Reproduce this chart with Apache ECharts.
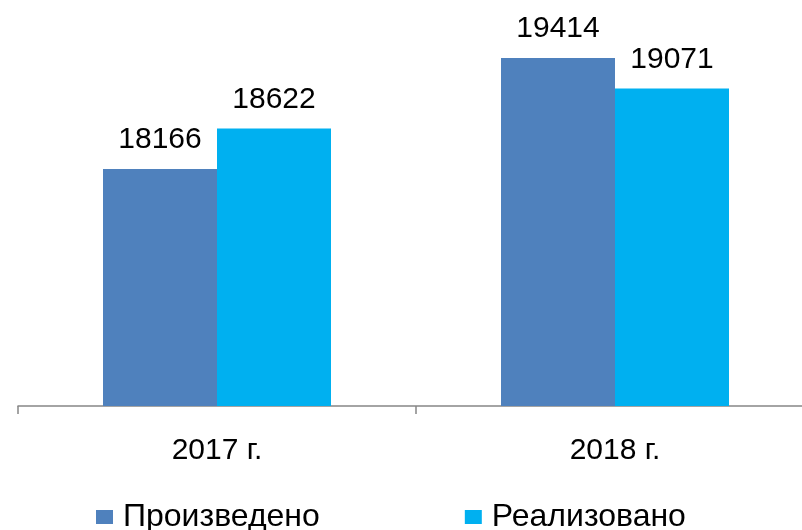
<!DOCTYPE html>
<html>
<head>
<meta charset="utf-8">
<script src="https://cdn.jsdelivr.net/npm/echarts@6/dist/echarts.min.js"></script>
<style>
  html, body { margin: 0; padding: 0; background: #fff; overflow: hidden; }
</style>
</head>
<body>
<div id="chart" style="width: 814px; height: 530px"></div>
<script>
const years = ["2017 г.", "2018 г."];
const produced = [18166, 19414];
const sold = [18622, 19071];
const seriesNames = ["Произведено", "Реализовано"];
const colors = ["#4F81BD", "#00B0F0"];

const font = "'Liberation Sans', Arial, sans-serif";
const myChart = echarts.init(document.getElementById("chart"));

const labelStyle = {
  show: true,
  position: "top",
  distance: 14,
  color: "#000",
  fontSize: 30,
  fontFamily: font,
};

myChart.setOption({
  animation: false,
  color: colors,
  legend: {
    data: seriesNames,
    left: 96,
    top: 501,
    padding: 0,
    itemWidth: 17,
    itemHeight: 14,
    itemGap: 145,
    icon: "rect",
    textStyle: { fontSize: 32, fontFamily: font, color: "#000", padding: [4, 0, 0, 5] },
  },
  grid: { left: 18, right: 0, top: 6, height: 400 },
  xAxis: {
    type: "category",
    data: years,
    axisLine: { show: true, lineStyle: { color: "#868686", width: 1.5 } },
    axisTick: { show: true, length: 8, lineStyle: { color: "#868686", width: 1.5 } },
    axisLabel: { fontSize: 30, fontFamily: font, color: "#000", margin: 30 },
  },
  yAxis: {
    type: "value",
    min: 15500,
    max: 20000,
    show: false,
    splitLine: { show: false },
  },
  series: [
    {
      name: seriesNames[0],
      type: "bar",
      data: produced,
      barWidth: 114,
      barGap: "0%",
      label: labelStyle,
    },
    {
      name: seriesNames[1],
      type: "bar",
      data: sold,
      barWidth: 114,
      label: labelStyle,
    },
  ],
});
</script>
</body>
</html>
